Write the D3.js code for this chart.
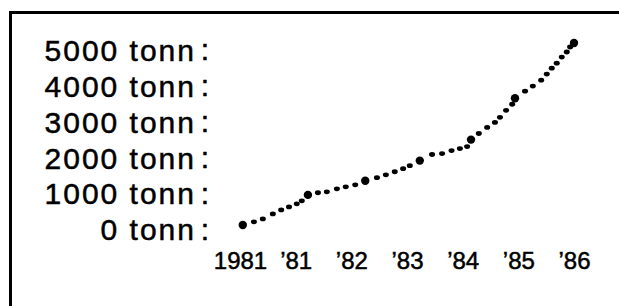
<html>
  <head>
    <meta charset="utf-8">
    <title>Tonn 1981-86</title>
    <script src="https://cdnjs.cloudflare.com/ajax/libs/d3/7.8.5/d3.min.js"></script>
    <style>
      body { margin: 0; background: white; }
      text { font-family: "Liberation Sans", Arial, sans-serif; fill: black; stroke: black; stroke-width: 0.5px; }
    </style>
  </head>
  <body>
    <script>
      // tick labels
      var yTicks = [0, 1000, 2000, 3000, 4000, 5000];
      var xYears = [1980, 1981, 1982, 1983, 1984, 1985, 1986];
      var xLabels = ["1981", "\u201981", "\u201982", "\u201983", "\u201984", "\u201985", "\u201986"];

      // big dots, one per year
      var yearTime = [1980.05, 1981.22, 1982.25, 1983.23, 1984.15, 1984.94, 1986.0];
      var yearTonn = [110, 950, 1345, 1905, 2490, 3640, 5180];

      // small dots in between
      var dotTime = [1980.25, 1980.41, 1980.59, 1980.74, 1980.88, 1981.02, 1981.11,
                     1981.40, 1981.56, 1981.74, 1981.90, 1982.07,
                     1982.46, 1982.62, 1982.78, 1982.93, 1983.05,
                     1983.45, 1983.63, 1983.80, 1983.95, 1984.08,
                     1984.29, 1984.44, 1984.58, 1984.67, 1984.78, 1984.89,
                     1985.12, 1985.26, 1985.41, 1985.51, 1985.60, 1985.69, 1985.78, 1985.87, 1985.93];
      var dotTonn = [200, 280, 420, 530, 615, 700, 785,
                     1010, 1035, 1120, 1175, 1230,
                     1430, 1510, 1595, 1680, 1765,
                     2075, 2100, 2185, 2240, 2295,
                     2660, 2830, 2970, 3110, 3305, 3475,
                     3840, 3980, 4145, 4315, 4480, 4620, 4790, 4930, 5070];

      var width = 619;
      var height = 306;

      var svg = d3.select("body")
        .append("svg")
        .attr("width", width)
        .attr("height", height);

      var x = d3.scaleLinear()
        .domain([1980, 1986])
        .range([240, 574]);

      var y = d3.scaleLinear()
        .domain([0, 5000])
        .range([229, 49.5]);

      // frame, top and left only
      svg.append("path")
        .attr("d", "M10.5," + height + "V12.5H" + width)
        .attr("fill", "none")
        .attr("stroke", "black")
        .attr("stroke-width", 3);

      // y axis labels
      var yAxis = svg.append("g")
        .attr("transform", "translate(196,0)")
        .call(d3.axisLeft(y)
          .tickValues(yTicks)
          .tickSize(0)
          .tickPadding(0)
          .tickFormat(function(d) { return d + " tonn"; }));
      yAxis.select(".domain").remove();
      yAxis.selectAll(".tick text")
        .attr("font-family", null)
        .style("font-size", "30px")
        .style("letter-spacing", "2px")
        .attr("dy", "0.36em");

      // the colons after each label
      svg.selectAll(".colon")
        .data(yTicks)
        .enter()
        .append("text")
        .attr("class", "colon")
        .attr("x", 205)
        .attr("y", function(d) { return y(d); })
        .attr("dy", "0.36em")
        .attr("text-anchor", "middle")
        .style("font-size", "30px")
        .text(":");

      // x axis labels
      var xAxis = svg.append("g")
        .attr("transform", "translate(0,252)")
        .call(d3.axisBottom(x)
          .tickValues(xYears)
          .tickSize(0)
          .tickPadding(0)
          .tickFormat(function(d, i) { return xLabels[i]; }));
      xAxis.select(".domain").remove();
      xAxis.selectAll(".tick text")
        .attr("font-family", null)
        .attr("dy", "0.72em")
        .style("font-size", "24px");

      // small dots
      svg.selectAll(".dot")
        .data(dotTime)
        .enter()
        .append("ellipse")
        .attr("class", "dot")
        .attr("cx", function(d) { return x(d); })
        .attr("cy", function(d, i) { return y(dotTonn[i]); })
        .attr("rx", 3)
        .attr("ry", 2.4)
        .attr("fill", "black");

      // year dots
      svg.selectAll(".bigdot")
        .data(yearTime)
        .enter()
        .append("circle")
        .attr("class", "bigdot")
        .attr("cx", function(d) { return x(d); })
        .attr("cy", function(d, i) { return y(yearTonn[i]); })
        .attr("r", 4.2)
        .attr("fill", "black");
    </script>
  </body>
</html>
